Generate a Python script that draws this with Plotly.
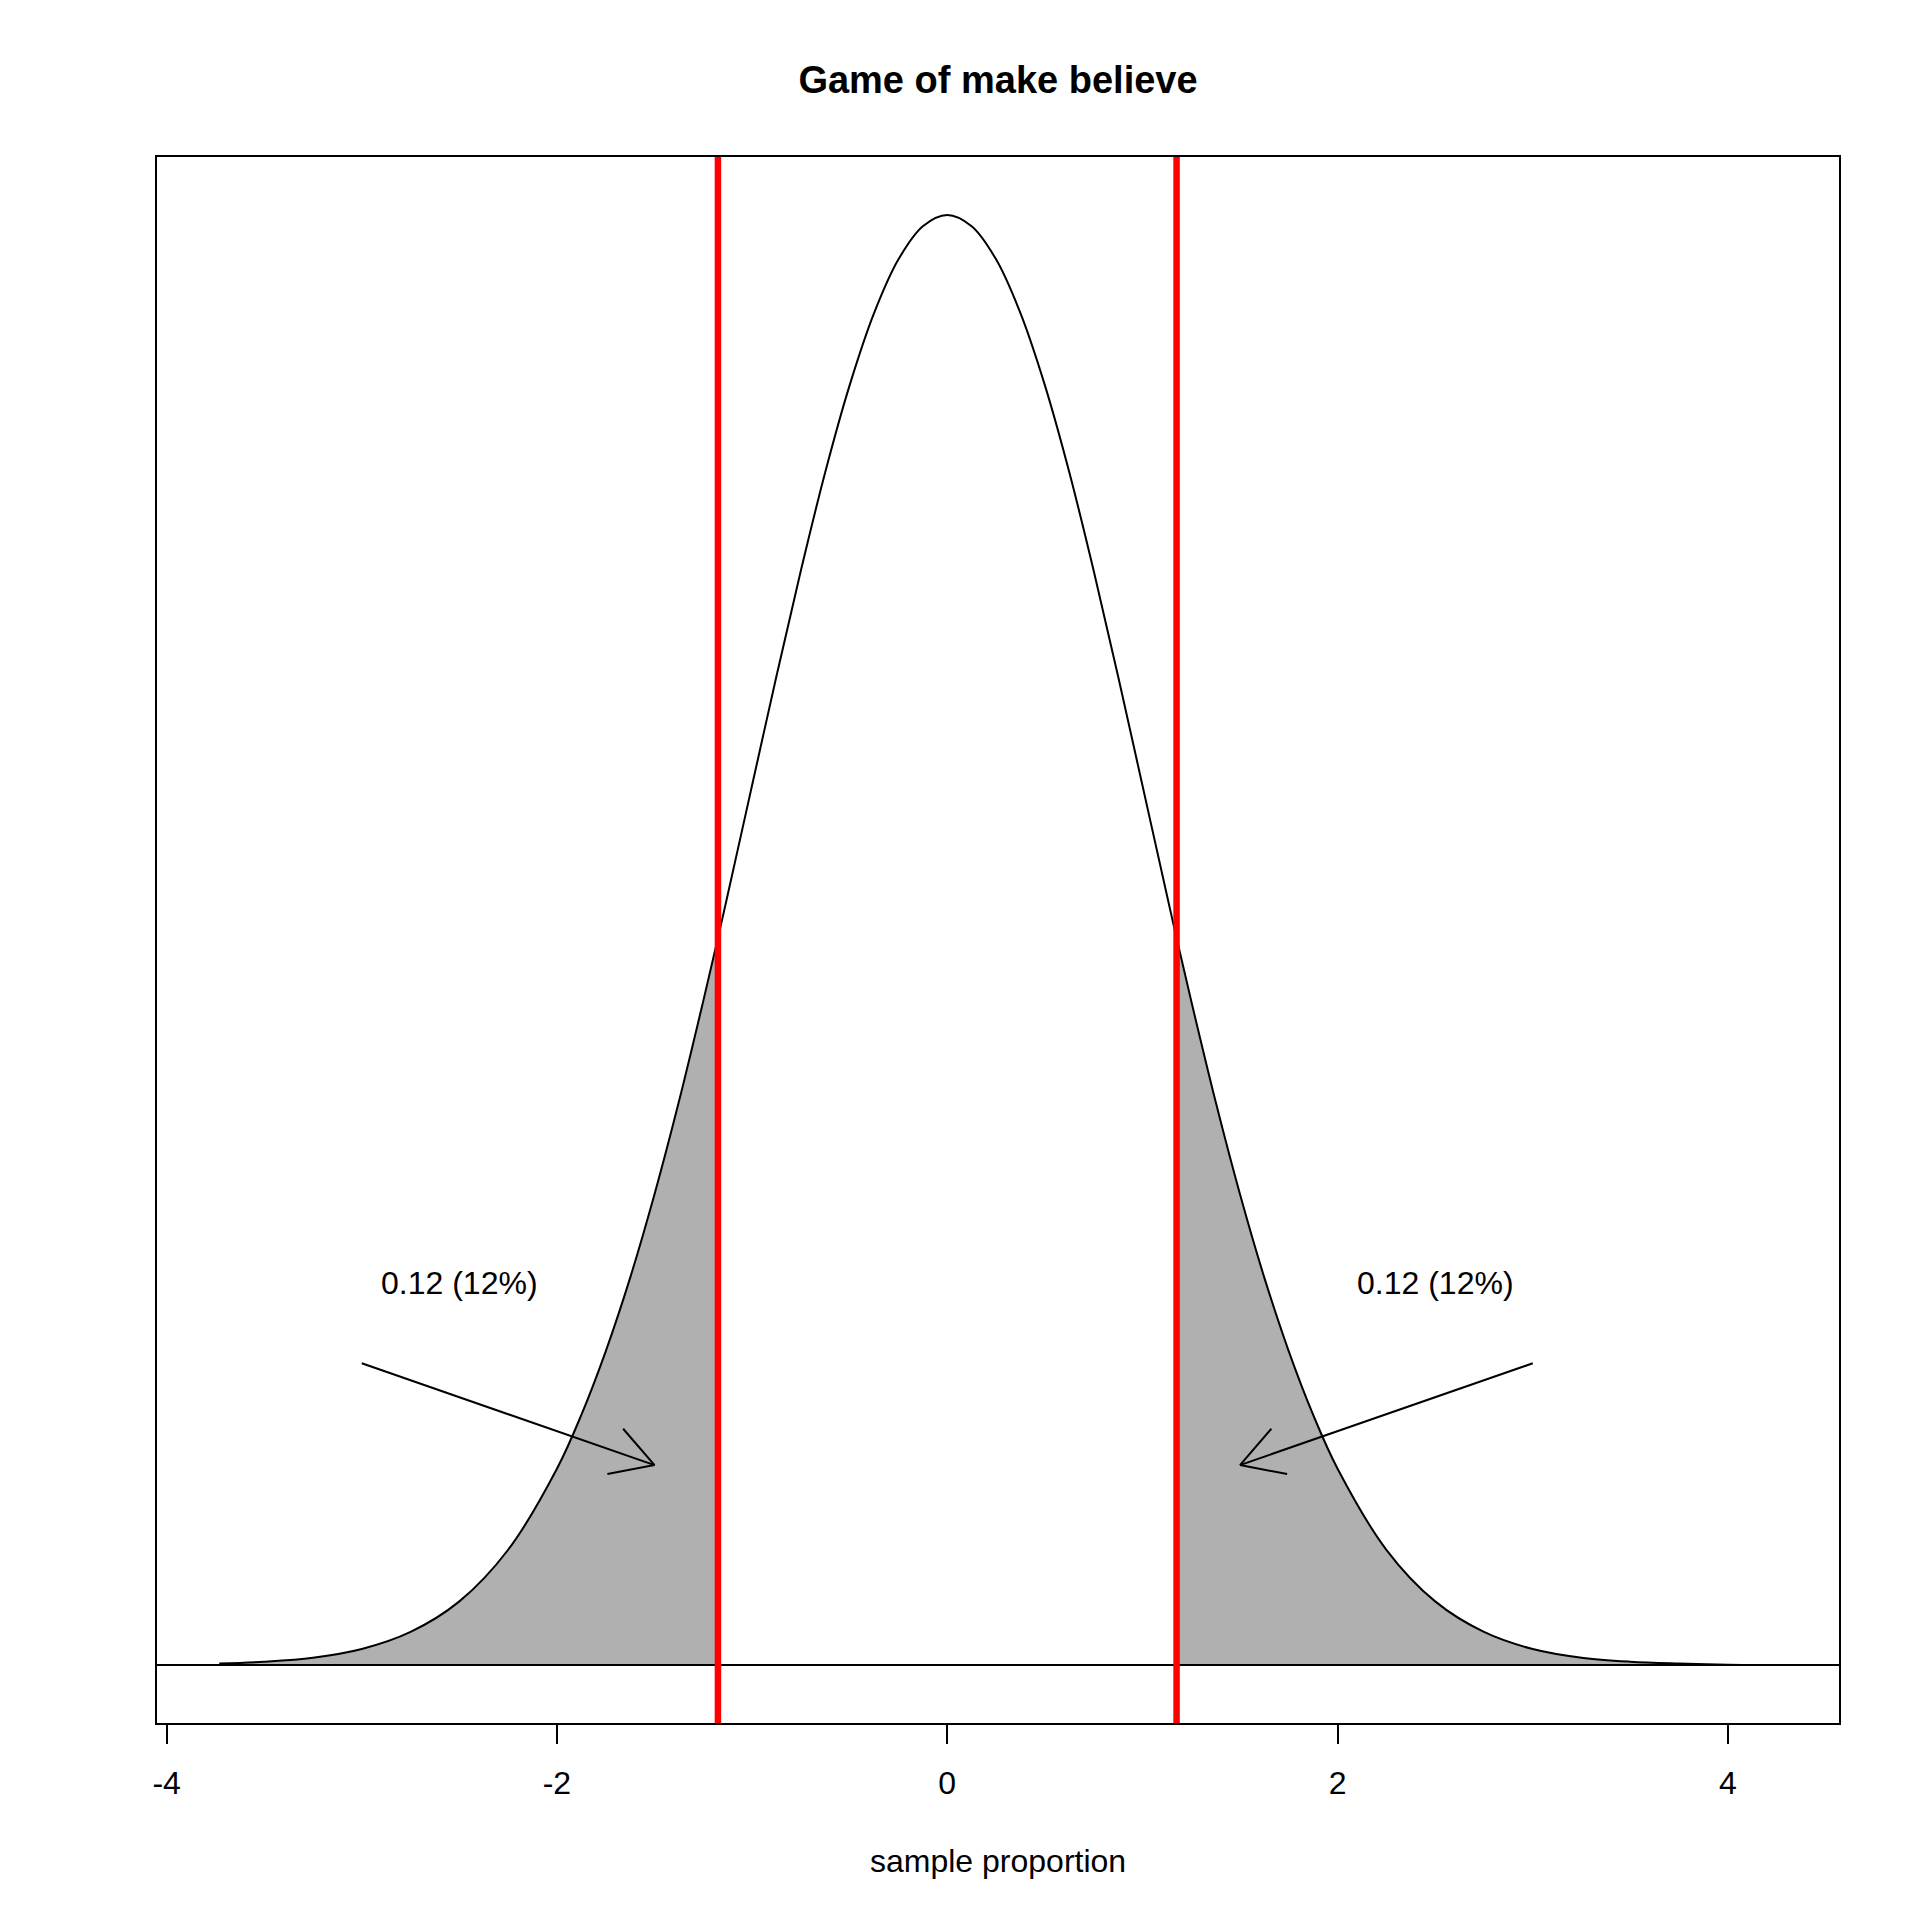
import math
import plotly.graph_objects as go

# density curve (sample proportion vs. height)
curve_x = [-3.73, -3.5, -3.25, -3.0, -2.75, -2.5, -2.25, -2.0, -1.875, -1.75, -1.625,
           -1.5, -1.375, -1.25, -1.175, -1.125, -1.0, -0.875, -0.75, -0.625, -0.5,
           -0.375, -0.25, -0.125, 0.0, 0.125, 0.25, 0.375, 0.5, 0.625, 0.75, 0.875,
           1.0, 1.125, 1.175, 1.25, 1.375, 1.5, 1.625, 1.75, 1.875, 2.0, 2.25, 2.5,
           2.75, 3.0, 3.25, 3.5, 3.75, 4.0, 4.25]
curve_y = [0.0004, 0.0009, 0.0020, 0.0044, 0.0091, 0.0175, 0.0317, 0.0540, 0.0688, 0.0863,
           0.1065, 0.1295, 0.1550, 0.1827, 0.2000, 0.2119, 0.2420, 0.2721, 0.3011, 0.3282,
           0.3521, 0.3719, 0.3867, 0.3958, 0.3989, 0.3958, 0.3867, 0.3719, 0.3521, 0.3282,
           0.3011, 0.2721, 0.2420, 0.2119, 0.2000, 0.1827, 0.1550, 0.1295, 0.1065, 0.0863,
           0.0688, 0.0540, 0.0317, 0.0175, 0.0091, 0.0044, 0.0020, 0.0009, 0.0004, 0.0001,
           0.0000]

# cut-offs (red lines)
cutoffs = [-1.175, 1.175]

# arrows: start and tip, and text labels
arrow_start = [(-3.0, 0.083), (3.0, 0.083)]
arrow_tip = [(-1.5, 0.055), (1.5, 0.055)]
label_x = [-2.5, 2.5]
label_y = [0.105, 0.105]
label_text = ["0.12 (12%)", "0.12 (12%)"]

tick_vals = [-4, -2, 0, 2, 4]

# axis ranges, like R with 4% padding
x_pad = 0.04 * (max(curve_x) - min(curve_x))
y_pad = 0.04 * (max(curve_y) - 0)
x_range = [min(curve_x) - x_pad, max(curve_x) + x_pad]
y_range = [0 - y_pad, max(curve_y) + y_pad]

# page has an 8px body margin
W = H = 1912
m = dict(l=149, r=81, t=149, b=197)
px_x = (W - m["l"] - m["r"]) / (x_range[1] - x_range[0])
px_y = (H - m["t"] - m["b"]) / (y_range[1] - y_range[0])

FONT = "Liberation Sans, Arial, sans-serif"
GRAY = "#B0B0B0"

fig = go.Figure()

left = [(x, y) for x, y in zip(curve_x, curve_y) if x <= cutoffs[0]]
right = [(x, y) for x, y in zip(curve_x, curve_y) if x >= cutoffs[1]]
for part in (left, right):
    fig.add_trace(go.Scatter(
        x=[p[0] for p in part], y=[p[1] for p in part],
        mode="lines", line=dict(width=0, shape="spline", color=GRAY),
        fill="tozeroy", fillcolor=GRAY, hoverinfo="skip"))

fig.add_trace(go.Scatter(x=curve_x, y=curve_y, mode="lines",
                         line=dict(color="black", width=2, shape="spline")))

shapes = []
# baseline at zero
shapes.append(dict(type="line", xref="paper", yref="y", x0=0, x1=1, y0=0, y1=0,
                   line=dict(color="black", width=2)))
for c in cutoffs:
    shapes.append(dict(type="line", xref="x", yref="paper", x0=c, x1=c, y0=0, y1=1,
                       line=dict(color="#FF0000", width=6.5)))

# arrows with open heads (like R arrows())
head_len = 48
for (x0, y0), (x1, y1) in zip(arrow_start, arrow_tip):
    shapes.append(dict(type="line", xref="x", yref="y", x0=x0, y0=y0, x1=x1, y1=y1,
                       line=dict(color="black", width=2)))
    ang = math.atan2((y1 - y0) * px_y, (x1 - x0) * px_x)
    for s in (1, -1):
        a = ang + math.pi + s * math.radians(30)
        shapes.append(dict(type="line", xref="x", yref="y", x0=x1, y0=y1,
                           x1=x1 + head_len * math.cos(a) / px_x,
                           y1=y1 + head_len * math.sin(a) / px_y,
                           line=dict(color="black", width=2)))

annotations = []
for x, y, t in zip(label_x, label_y, label_text):
    annotations.append(dict(x=x, y=y, xref="x", yref="y", text=t, showarrow=False,
                            font=dict(size=32, color="black", family=FONT),
                            xanchor="center", yanchor="middle"))
annotations.append(dict(x=0.5, y=-(1853 - (H - m["b"])) / (H - m["t"] - m["b"]),
                        xref="paper", yref="paper", text="sample proportion",
                        showarrow=False, xanchor="center", yanchor="middle",
                        font=dict(size=32, color="black", family=FONT)))

fig.update_layout(
    width=W, height=H, margin=m,
    paper_bgcolor="white", plot_bgcolor="white",
    showlegend=False,
    title=dict(text="<b>Game of make believe</b>", x=990 / W, xanchor="center",
               y=1 - 72 / H, yanchor="middle",
               font=dict(size=38, color="black", family=FONT)),
    shapes=shapes, annotations=annotations,
    xaxis=dict(range=x_range, tickvals=tick_vals, ticktext=[str(v) for v in tick_vals],
               ticks="outside", ticklen=19, tickwidth=2, tickcolor="black",
               ticklabelstandoff=12,
               showline=True, linecolor="black", linewidth=2, mirror=True,
               showgrid=False, zeroline=False,
               tickfont=dict(size=32, color="black", family=FONT)),
    yaxis=dict(range=y_range, showticklabels=False, ticks="",
               showline=True, linecolor="black", linewidth=2, mirror=True,
               showgrid=False, zeroline=False),
)

fig.write_html("out.html")
